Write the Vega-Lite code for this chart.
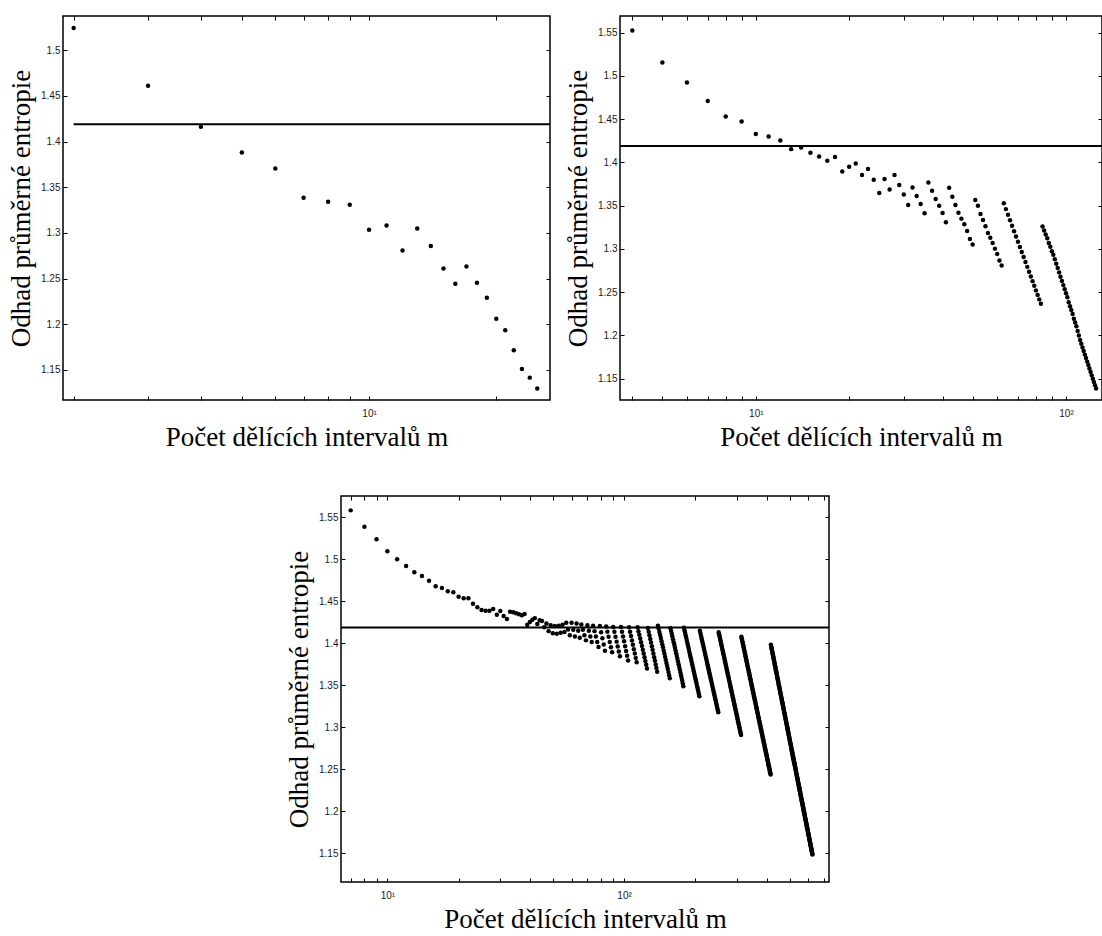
{
  "$schema": "https://vega.github.io/schema/vega-lite/v6.json",
  "background": "white",
  "padding": {"left": 6, "top": 14, "right": 0, "bottom": 0},
  "config": {
    "view": {"stroke": "black", "strokeWidth": 1.5},
    "axis": {
      "domain": false, "grid": false, "tickColor": "black", "tickWidth": 1, "tickSize": -4,
      "labelFont": "Liberation Sans", "labelFontSize": 10, "labelColor": "#1a1a1a",
      "labelOverlap": false, "labelFlush": false,
      "titleFont": "Liberation Serif", "titleFontSize": 27, "titleFontWeight": "normal", "titleColor": "black"
    }
  },
  "datasets": {
    "n50": [
      {"m":2,"H":1.5244},{"m":3,"H":1.461},{"m":4,"H":1.4161},{"m":5,"H":1.388},{"m":6,"H":1.3705},{"m":7,"H":1.3384},{"m":8,"H":1.334},{"m":9,"H":1.3308},{"m":10,"H":1.3034},{"m":11,"H":1.3082},{"m":12,"H":1.2808},{"m":13,"H":1.3049},{"m":14,"H":1.2856},{"m":15,"H":1.2611},{"m":16,"H":1.2443},{"m":17,"H":1.2633},{"m":18,"H":1.2454},{"m":19,"H":1.229},{"m":20,"H":1.206},{"m":21,"H":1.1933},{"m":22,"H":1.1714},{"m":23,"H":1.151},{"m":24,"H":1.1415},{"m":25,"H":1.1295}
    ],
    "n250": [
      {"m":4,"H":1.5525},{"m":5,"H":1.5155},{"m":6,"H":1.4924},{"m":7,"H":1.4712},{"m":8,"H":1.4532},{"m":9,"H":1.4474},{"m":10,"H":1.4328},{"m":11,"H":1.4301},{"m":12,"H":1.4254},{"m":13,"H":1.4154},{"m":14,"H":1.4174},{"m":15,"H":1.4112},{"m":16,"H":1.407},{"m":17,"H":1.402},{"m":18,"H":1.4062},{"m":19,"H":1.3896},{"m":20,"H":1.395},{"m":21,"H":1.3989},{"m":22,"H":1.3855},{"m":23,"H":1.3924},{"m":24,"H":1.38},{"m":25,"H":1.3647},{"m":26,"H":1.3808},{"m":27,"H":1.3688},{"m":28,"H":1.3855},{"m":29,"H":1.3739},{"m":30,"H":1.363},{"m":31,"H":1.3508},{"m":32,"H":1.3711},{"m":33,"H":1.3612},{"m":34,"H":1.352},{"m":35,"H":1.3411},{"m":36,"H":1.3769},{"m":37,"H":1.3673},{"m":38,"H":1.3577},{"m":39,"H":1.35},{"m":40,"H":1.3416},{"m":41,"H":1.3307},{"m":42,"H":1.3708},{"m":43,"H":1.3604},{"m":44,"H":1.3508},{"m":45,"H":1.3419},{"m":46,"H":1.335},{"m":47,"H":1.3284},{"m":48,"H":1.3208},{"m":49,"H":1.3115},{"m":50,"H":1.305},
      {"m":51,"H":1.3566},{"m":52,"H":1.35},{"m":53,"H":1.3404},{"m":54,"H":1.3335},{"m":55,"H":1.3261},{"m":56,"H":1.3185},{"m":57,"H":1.313},{"m":58,"H":1.3069},{"m":59,"H":1.3003},{"m":60,"H":1.2942},{"m":61,"H":1.2865},{"m":62,"H":1.2807},
      {"m":63,"H":1.3527},{"m":64,"H":1.346},{"m":65,"H":1.3395},{"m":66,"H":1.3331},{"m":67,"H":1.3267},{"m":68,"H":1.3205},{"m":69,"H":1.3144},{"m":70,"H":1.3083},{"m":71,"H":1.3023},{"m":72,"H":1.2964},{"m":73,"H":1.2906},{"m":74,"H":1.2849},{"m":75,"H":1.2792},{"m":76,"H":1.2736},{"m":77,"H":1.2681},{"m":78,"H":1.2627},{"m":79,"H":1.2573},{"m":80,"H":1.252},{"m":81,"H":1.2468},{"m":82,"H":1.2416},{"m":83,"H":1.2365},
      {"m":84,"H":1.3258},{"m":85,"H":1.3212},{"m":86,"H":1.3167},{"m":87,"H":1.3123},{"m":88,"H":1.3069},{"m":89,"H":1.3026},{"m":90,"H":1.2973},{"m":91,"H":1.2931},{"m":92,"H":1.2879},{"m":93,"H":1.2828},{"m":94,"H":1.2778},{"m":95,"H":1.2728},{"m":96,"H":1.2679},{"m":97,"H":1.263},{"m":98,"H":1.2581},{"m":99,"H":1.2534},{"m":100,"H":1.2486},{"m":101,"H":1.244},{"m":102,"H":1.2383},{"m":103,"H":1.2337},{"m":104,"H":1.2292},{"m":105,"H":1.2246},{"m":106,"H":1.2192},{"m":107,"H":1.2148},{"m":108,"H":1.2104},{"m":109,"H":1.205},{"m":110,"H":1.1997},{"m":111,"H":1.1945},{"m":112,"H":1.1902},{"m":113,"H":1.186},{"m":114,"H":1.1819},{"m":115,"H":1.1777},{"m":116,"H":1.1737},{"m":117,"H":1.1696},{"m":118,"H":1.1656},{"m":119,"H":1.1616},{"m":120,"H":1.1577},{"m":121,"H":1.1537},{"m":122,"H":1.1499},{"m":123,"H":1.146},{"m":124,"H":1.1422},{"m":125,"H":1.1384}
    ],
    "n1250": [
      {"m":7,"H":1.5583},{"m":8,"H":1.5388},{"m":9,"H":1.5238},{"m":10,"H":1.5095},{"m":11,"H":1.5},{"m":12,"H":1.492},{"m":13,"H":1.4845},{"m":14,"H":1.4801},{"m":15,"H":1.4745},{"m":16,"H":1.4679},{"m":17,"H":1.4658},{"m":18,"H":1.4619},{"m":19,"H":1.4607},{"m":20,"H":1.4555},{"m":21,"H":1.4536},{"m":22,"H":1.4536},{"m":23,"H":1.4471},{"m":24,"H":1.4429},{"m":25,"H":1.4396},{"m":26,"H":1.4388},{"m":27,"H":1.4388},{"m":28,"H":1.4408},{"m":29,"H":1.434},{"m":30,"H":1.4385},{"m":31,"H":1.4325},{"m":32,"H":1.4289},{"m":33,"H":1.4376},{"m":34,"H":1.4369},{"m":35,"H":1.4358},{"m":36,"H":1.4345},{"m":37,"H":1.4335},{"m":38,"H":1.4349},{"m":39,"H":1.4222},
      {"m":40,"H":1.4255},{"m":41,"H":1.428},{"m":42,"H":1.43},{"m":43,"H":1.423},{"m":44,"H":1.4275},{"m":45,"H":1.4265},{"m":46,"H":1.419},{"m":47,"H":1.4235},{"m":48,"H":1.4145},{"m":49,"H":1.4215},{"m":50,"H":1.412},{"m":51,"H":1.4205},{"m":52,"H":1.4115},{"m":53,"H":1.421},{"m":54,"H":1.4125},{"m":55,"H":1.422},{"m":56,"H":1.4135},{"m":57,"H":1.4245},{"m":58,"H":1.4165},{"m":59,"H":1.4095},{"m":60,"H":1.4245},{"m":61,"H":1.416},{"m":62,"H":1.408},{"m":63,"H":1.4235},{"m":64,"H":1.415},{"m":65,"H":1.4065},{"m":66,"H":1.4225},{"m":67,"H":1.416},{"m":68,"H":1.4095},{"m":69,"H":1.4035},{"m":70,"H":1.4215},{"m":71,"H":1.415},{"m":72,"H":1.408},{"m":73,"H":1.4015},{"m":74,"H":1.421},{"m":75,"H":1.4145},{"m":76,"H":1.408},{"m":77,"H":1.4015},{"m":78,"H":1.3955},{"m":79,"H":1.4205},{"m":80,"H":1.4132},{"m":81,"H":1.4059},{"m":82,"H":1.3985},{"m":83,"H":1.3912},{"m":84,"H":1.42},{"m":85,"H":1.4139},{"m":86,"H":1.4077},{"m":87,"H":1.4016},{"m":88,"H":1.3954},{"m":89,"H":1.3893},{"m":90,"H":1.4195},{"m":91,"H":1.4137},{"m":92,"H":1.4078},{"m":93,"H":1.402},{"m":94,"H":1.3962},{"m":95,"H":1.3903},{"m":96,"H":1.3845},{"m":97,"H":1.4195},{"m":98,"H":1.4138},{"m":99,"H":1.4081},{"m":100,"H":1.4024},{"m":101,"H":1.3966},{"m":102,"H":1.3909},{"m":103,"H":1.3852},{"m":104,"H":1.3795},{"m":105,"H":1.419},{"m":106,"H":1.4138},{"m":107,"H":1.4086},{"m":108,"H":1.4034},{"m":109,"H":1.3982},{"m":110,"H":1.393},{"m":111,"H":1.3878},{"m":112,"H":1.3826},{"m":113,"H":1.3774},
      {"m":114,"H":1.419},{"m":115,"H":1.4145},{"m":116,"H":1.4101},{"m":117,"H":1.4056},{"m":118,"H":1.4012},{"m":119,"H":1.3967},{"m":120,"H":1.3923},{"m":121,"H":1.3878},{"m":122,"H":1.3834},{"m":123,"H":1.3789},{"m":124,"H":1.3745},{"m":125,"H":1.37},
      {"m":126,"H":1.4182},{"m":127,"H":1.4139},{"m":128,"H":1.4095},{"m":129,"H":1.4052},{"m":130,"H":1.4009},{"m":131,"H":1.3965},{"m":132,"H":1.3922},{"m":133,"H":1.3879},{"m":134,"H":1.3835},{"m":135,"H":1.3792},{"m":136,"H":1.3749},{"m":137,"H":1.3705},{"m":138,"H":1.3662},
      {"m":139,"H":1.421},{"m":140,"H":1.4173},{"m":141,"H":1.4136},{"m":142,"H":1.4099},{"m":143,"H":1.4062},{"m":144,"H":1.4026},{"m":145,"H":1.3989},{"m":146,"H":1.3952},{"m":147,"H":1.3915},{"m":148,"H":1.3878},{"m":149,"H":1.3841},{"m":150,"H":1.3804},{"m":151,"H":1.3767},{"m":152,"H":1.373},{"m":153,"H":1.3694},{"m":154,"H":1.3657},{"m":155,"H":1.362},{"m":156,"H":1.3583},
      {"m":157,"H":1.4179},{"m":158,"H":1.4146},{"m":159,"H":1.4113},{"m":160,"H":1.408},{"m":161,"H":1.4047},{"m":162,"H":1.4014},{"m":163,"H":1.3982},{"m":164,"H":1.3949},{"m":165,"H":1.3916},{"m":166,"H":1.3883},{"m":167,"H":1.385},{"m":168,"H":1.3817},{"m":169,"H":1.3784},{"m":170,"H":1.3751},{"m":171,"H":1.3718},{"m":172,"H":1.3685},{"m":173,"H":1.3653},{"m":174,"H":1.362},{"m":175,"H":1.3587},{"m":176,"H":1.3554},{"m":177,"H":1.3521},{"m":178,"H":1.3488},
      {"m":179,"H":1.4186},{"m":180,"H":1.4156},{"m":181,"H":1.4127},{"m":182,"H":1.4097},{"m":183,"H":1.4068},{"m":184,"H":1.4038},{"m":185,"H":1.4008},{"m":186,"H":1.3979},{"m":187,"H":1.3949},{"m":188,"H":1.392},{"m":189,"H":1.389},{"m":190,"H":1.3862},{"m":191,"H":1.3834},{"m":192,"H":1.3806},{"m":193,"H":1.3778},{"m":194,"H":1.375},{"m":195,"H":1.3722},{"m":196,"H":1.3694},{"m":197,"H":1.3666},{"m":198,"H":1.3638},{"m":199,"H":1.361},{"m":200,"H":1.3583},{"m":201,"H":1.3557},{"m":202,"H":1.353},{"m":203,"H":1.3503},{"m":204,"H":1.3477},{"m":205,"H":1.345},{"m":206,"H":1.3423},{"m":207,"H":1.3397},{"m":208,"H":1.337},
      {"m":209,"H":1.415},{"m":210,"H":1.4125},{"m":211,"H":1.4099},{"m":212,"H":1.4074},{"m":213,"H":1.4049},{"m":214,"H":1.4023},{"m":215,"H":1.3998},{"m":216,"H":1.3973},{"m":217,"H":1.3947},{"m":218,"H":1.3922},{"m":219,"H":1.3897},{"m":220,"H":1.3873},{"m":221,"H":1.3849},{"m":222,"H":1.3824},{"m":223,"H":1.38},{"m":224,"H":1.3776},{"m":225,"H":1.3752},{"m":226,"H":1.3728},{"m":227,"H":1.3703},{"m":228,"H":1.3679},{"m":229,"H":1.3655},{"m":230,"H":1.3632},{"m":231,"H":1.3609},{"m":232,"H":1.3585},{"m":233,"H":1.3562},{"m":234,"H":1.3539},{"m":235,"H":1.3516},{"m":236,"H":1.3493},{"m":237,"H":1.3469},{"m":238,"H":1.3446},{"m":239,"H":1.3423},{"m":240,"H":1.3401},{"m":241,"H":1.3379},{"m":242,"H":1.3356},{"m":243,"H":1.3334},{"m":244,"H":1.3312},{"m":245,"H":1.329},{"m":246,"H":1.3268},{"m":247,"H":1.3245},{"m":248,"H":1.3223},{"m":249,"H":1.3201},{"m":250,"H":1.3179},
      {"m":251,"H":1.4131},{"m":252,"H":1.4109},{"m":253,"H":1.4087},{"m":254,"H":1.4065},{"m":255,"H":1.4043},{"m":256,"H":1.4021},{"m":257,"H":1.3999},{"m":258,"H":1.3977},{"m":259,"H":1.3955},{"m":260,"H":1.3933},{"m":261,"H":1.3911},{"m":262,"H":1.389},{"m":263,"H":1.3869},{"m":264,"H":1.3848},{"m":265,"H":1.3827},{"m":266,"H":1.3806},{"m":267,"H":1.3785},{"m":268,"H":1.3764},{"m":269,"H":1.3742},{"m":270,"H":1.3721},{"m":271,"H":1.37},{"m":272,"H":1.368},{"m":273,"H":1.3659},{"m":274,"H":1.3639},{"m":275,"H":1.3619},{"m":276,"H":1.3598},{"m":277,"H":1.3578},{"m":278,"H":1.3558},{"m":279,"H":1.3538},{"m":280,"H":1.3517},{"m":281,"H":1.3497},{"m":282,"H":1.3477},{"m":283,"H":1.3458},{"m":284,"H":1.3438},{"m":285,"H":1.3418},{"m":286,"H":1.3399},{"m":287,"H":1.3379},{"m":288,"H":1.3359},{"m":289,"H":1.3339},{"m":290,"H":1.332},{"m":291,"H":1.33},{"m":292,"H":1.3281},{"m":293,"H":1.3262},{"m":294,"H":1.3243},{"m":295,"H":1.3224},{"m":296,"H":1.3205},{"m":297,"H":1.3186},{"m":298,"H":1.3167},{"m":299,"H":1.3148},{"m":300,"H":1.3129},{"m":301,"H":1.311},{"m":302,"H":1.3092},{"m":303,"H":1.3073},{"m":304,"H":1.3055},{"m":305,"H":1.3037},{"m":306,"H":1.3018},{"m":307,"H":1.3},{"m":308,"H":1.2982},{"m":309,"H":1.2963},{"m":310,"H":1.2945},{"m":311,"H":1.2926},{"m":312,"H":1.2908},
      {"m":313,"H":1.4079},{"m":314,"H":1.4061},{"m":315,"H":1.4043},{"m":316,"H":1.4025},{"m":317,"H":1.4007},{"m":318,"H":1.3989},{"m":319,"H":1.397},{"m":320,"H":1.3952},{"m":321,"H":1.3934},{"m":322,"H":1.3916},{"m":323,"H":1.3898},{"m":324,"H":1.388},{"m":325,"H":1.3863},{"m":326,"H":1.3845},{"m":327,"H":1.3827},{"m":328,"H":1.381},{"m":329,"H":1.3792},{"m":330,"H":1.3775},{"m":331,"H":1.3757},{"m":332,"H":1.374},{"m":333,"H":1.3722},{"m":334,"H":1.3705},{"m":335,"H":1.3688},{"m":336,"H":1.3671},{"m":337,"H":1.3654},{"m":338,"H":1.3637},{"m":339,"H":1.362},{"m":340,"H":1.3602},{"m":341,"H":1.3585},{"m":342,"H":1.3568},{"m":343,"H":1.3551},{"m":344,"H":1.3534},{"m":345,"H":1.3518},{"m":346,"H":1.3501},{"m":347,"H":1.3485},{"m":348,"H":1.3468},{"m":349,"H":1.3451},{"m":350,"H":1.3435},{"m":351,"H":1.3418},{"m":352,"H":1.3402},{"m":353,"H":1.3385},{"m":354,"H":1.3369},{"m":355,"H":1.3353},{"m":356,"H":1.3337},{"m":357,"H":1.3321},{"m":358,"H":1.3305},{"m":359,"H":1.3288},{"m":360,"H":1.3272},{"m":361,"H":1.3256},{"m":362,"H":1.324},{"m":363,"H":1.3224},{"m":364,"H":1.3208},{"m":365,"H":1.3193},{"m":366,"H":1.3177},{"m":367,"H":1.3161},{"m":368,"H":1.3146},{"m":369,"H":1.313},{"m":370,"H":1.3114},{"m":371,"H":1.3099},{"m":372,"H":1.3083},{"m":373,"H":1.3067},{"m":374,"H":1.3052},{"m":375,"H":1.3036},{"m":376,"H":1.3021},{"m":377,"H":1.3006},{"m":378,"H":1.299},{"m":379,"H":1.2975},{"m":380,"H":1.296},{"m":381,"H":1.2945},{"m":382,"H":1.2929},{"m":383,"H":1.2914},{"m":384,"H":1.2899},{"m":385,"H":1.2884},{"m":386,"H":1.2869},{"m":387,"H":1.2854},{"m":388,"H":1.284},{"m":389,"H":1.2825},{"m":390,"H":1.281},{"m":391,"H":1.2795},{"m":392,"H":1.278},{"m":393,"H":1.2765},{"m":394,"H":1.2751},{"m":395,"H":1.2736},{"m":396,"H":1.2722},{"m":397,"H":1.2707},{"m":398,"H":1.2693},{"m":399,"H":1.2678},{"m":400,"H":1.2664},{"m":401,"H":1.2649},{"m":402,"H":1.2635},{"m":403,"H":1.262},{"m":404,"H":1.2606},{"m":405,"H":1.2592},{"m":406,"H":1.2578},{"m":407,"H":1.2564},{"m":408,"H":1.2549},{"m":409,"H":1.2535},{"m":410,"H":1.2521},{"m":411,"H":1.2507},{"m":412,"H":1.2493},{"m":413,"H":1.2479},{"m":414,"H":1.2465},{"m":415,"H":1.2451},{"m":416,"H":1.2437},
      {"m":417,"H":1.3983},{"m":418,"H":1.3969},{"m":419,"H":1.3954},{"m":420,"H":1.394},{"m":421,"H":1.3925},{"m":422,"H":1.3911},{"m":423,"H":1.3896},{"m":424,"H":1.3882},{"m":425,"H":1.3867},{"m":426,"H":1.3853},{"m":427,"H":1.3839},{"m":428,"H":1.3824},{"m":429,"H":1.381},{"m":430,"H":1.3795},{"m":431,"H":1.3781},{"m":432,"H":1.3766},{"m":433,"H":1.3752},{"m":434,"H":1.3737},{"m":435,"H":1.3723},{"m":436,"H":1.3708},{"m":437,"H":1.3694},{"m":438,"H":1.368},{"m":439,"H":1.3666},{"m":440,"H":1.3652},{"m":441,"H":1.3639},{"m":442,"H":1.3625},{"m":443,"H":1.3611},{"m":444,"H":1.3597},{"m":445,"H":1.3583},{"m":446,"H":1.3569},{"m":447,"H":1.3556},{"m":448,"H":1.3542},{"m":449,"H":1.3528},{"m":450,"H":1.3514},{"m":451,"H":1.35},{"m":452,"H":1.3486},{"m":453,"H":1.3472},{"m":454,"H":1.3459},{"m":455,"H":1.3445},{"m":456,"H":1.3431},{"m":457,"H":1.3417},{"m":458,"H":1.3404},{"m":459,"H":1.3391},{"m":460,"H":1.3377},{"m":461,"H":1.3364},{"m":462,"H":1.3351},{"m":463,"H":1.3338},{"m":464,"H":1.3325},{"m":465,"H":1.3311},{"m":466,"H":1.3298},{"m":467,"H":1.3285},{"m":468,"H":1.3272},{"m":469,"H":1.3259},{"m":470,"H":1.3245},{"m":471,"H":1.3232},{"m":472,"H":1.3219},{"m":473,"H":1.3206},{"m":474,"H":1.3193},{"m":475,"H":1.3179},{"m":476,"H":1.3166},{"m":477,"H":1.3153},{"m":478,"H":1.314},{"m":479,"H":1.3128},{"m":480,"H":1.3115},{"m":481,"H":1.3102},{"m":482,"H":1.309},{"m":483,"H":1.3077},{"m":484,"H":1.3064},{"m":485,"H":1.3051},{"m":486,"H":1.3039},{"m":487,"H":1.3026},{"m":488,"H":1.3013},{"m":489,"H":1.3001},{"m":490,"H":1.2988},{"m":491,"H":1.2975},{"m":492,"H":1.2963},{"m":493,"H":1.295},{"m":494,"H":1.2937},{"m":495,"H":1.2924},{"m":496,"H":1.2912},{"m":497,"H":1.2899},{"m":498,"H":1.2887},{"m":499,"H":1.2875},{"m":500,"H":1.2862},{"m":501,"H":1.285},{"m":502,"H":1.2838},{"m":503,"H":1.2826},{"m":504,"H":1.2814},{"m":505,"H":1.2801},{"m":506,"H":1.2789},{"m":507,"H":1.2777},{"m":508,"H":1.2765},{"m":509,"H":1.2753},{"m":510,"H":1.274},{"m":511,"H":1.2728},{"m":512,"H":1.2716},{"m":513,"H":1.2704},{"m":514,"H":1.2692},{"m":515,"H":1.2679},{"m":516,"H":1.2667},{"m":517,"H":1.2655},{"m":518,"H":1.2643},{"m":519,"H":1.2632},{"m":520,"H":1.262},{"m":521,"H":1.2608},{"m":522,"H":1.2597},{"m":523,"H":1.2585},{"m":524,"H":1.2573},{"m":525,"H":1.2561},{"m":526,"H":1.255},{"m":527,"H":1.2538},{"m":528,"H":1.2526},{"m":529,"H":1.2515},{"m":530,"H":1.2503},{"m":531,"H":1.2491},{"m":532,"H":1.248},{"m":533,"H":1.2468},{"m":534,"H":1.2456},{"m":535,"H":1.2444},{"m":536,"H":1.2433},{"m":537,"H":1.2421},{"m":538,"H":1.241},{"m":539,"H":1.2398},{"m":540,"H":1.2387},{"m":541,"H":1.2376},{"m":542,"H":1.2365},{"m":543,"H":1.2353},{"m":544,"H":1.2342},{"m":545,"H":1.2331},{"m":546,"H":1.2319},{"m":547,"H":1.2308},{"m":548,"H":1.2297},{"m":549,"H":1.2285},{"m":550,"H":1.2274},{"m":551,"H":1.2263},{"m":552,"H":1.2252},{"m":553,"H":1.224},{"m":554,"H":1.2229},{"m":555,"H":1.2218},{"m":556,"H":1.2206},{"m":557,"H":1.2195},{"m":558,"H":1.2184},{"m":559,"H":1.2173},{"m":560,"H":1.2162},{"m":561,"H":1.2151},{"m":562,"H":1.2141},{"m":563,"H":1.213},{"m":564,"H":1.2119},{"m":565,"H":1.2108},{"m":566,"H":1.2097},{"m":567,"H":1.2086},{"m":568,"H":1.2075},{"m":569,"H":1.2064},{"m":570,"H":1.2053},{"m":571,"H":1.2042},{"m":572,"H":1.2032},{"m":573,"H":1.2021},{"m":574,"H":1.201},{"m":575,"H":1.1999},{"m":576,"H":1.1988},{"m":577,"H":1.1977},{"m":578,"H":1.1967},{"m":579,"H":1.1956},{"m":580,"H":1.1946},{"m":581,"H":1.1935},{"m":582,"H":1.1925},{"m":583,"H":1.1914},{"m":584,"H":1.1904},{"m":585,"H":1.1893},{"m":586,"H":1.1883},{"m":587,"H":1.1872},{"m":588,"H":1.1862},{"m":589,"H":1.1851},{"m":590,"H":1.1841},{"m":591,"H":1.183},{"m":592,"H":1.182},{"m":593,"H":1.1809},{"m":594,"H":1.1799},{"m":595,"H":1.1788},{"m":596,"H":1.1778},{"m":597,"H":1.1767},{"m":598,"H":1.1757},{"m":599,"H":1.1747},{"m":600,"H":1.1737},{"m":601,"H":1.1726},{"m":602,"H":1.1716},{"m":603,"H":1.1706},{"m":604,"H":1.1696},{"m":605,"H":1.1686},{"m":606,"H":1.1676},{"m":607,"H":1.1666},{"m":608,"H":1.1655},{"m":609,"H":1.1645},{"m":610,"H":1.1635},{"m":611,"H":1.1625},{"m":612,"H":1.1615},{"m":613,"H":1.1605},{"m":614,"H":1.1595},{"m":615,"H":1.1584},{"m":616,"H":1.1574},{"m":617,"H":1.1564},{"m":618,"H":1.1554},{"m":619,"H":1.1544},{"m":620,"H":1.1534},{"m":621,"H":1.1524},{"m":622,"H":1.1514},{"m":623,"H":1.1504},{"m":624,"H":1.1494},{"m":625,"H":1.1484}
    ]
  },
  "spacing": 43,
  "vconcat": [
    {
      "spacing": 11,
      "hconcat": [
        {
          "width": 487, "height": 384,
          "layer": [
            {
              "data": {"name": "n50"},
              "mark": {"type": "circle", "size": 20, "color": "black", "opacity": 1},
              "encoding": {
                "x": {"field": "m", "type": "quantitative",
                  "scale": {"type": "log", "domain": [1.887, 26.8], "nice": false},
                  "axis": {"orient": "bottom", "values": [2,3,4,5,6,7,8,9,10,20],
                    "labelExpr": "datum.value == 10 ? '10¹' : datum.value == 100 ? '10²' : ''",
                    "labelPadding": 12, "minExtent": 16, "maxExtent": 16, "titlePadding": 8,
                    "title": "Počet dělících intervalů m"}},
                "y": {"field": "H", "type": "quantitative",
                  "scale": {"domain": [1.117, 1.5375], "nice": false, "zero": false},
                  "axis": {"orient": "left", "values": [1.15,1.2,1.25,1.3,1.35,1.4,1.45,1.5], "format": ".2~f",
                    "labelPadding": 7, "minExtent": 20, "maxExtent": 20, "titlePadding": 8,
                    "title": "Odhad průměrné entropie"}}
              }
            },
            {
              "data": {"values": [{"H": 1.4189, "m0": 2, "m1": 26.8}]},
              "mark": {"type": "rule", "color": "black", "strokeWidth": 2},
              "encoding": {
                "x": {"field": "m0", "type": "quantitative",
                  "axis": {"orient": "top", "values": [2,3,4,5,6,7,8,9,10,20], "labels": false, "title": null}},
                "x2": {"field": "m1"},
                "y": {"field": "H", "type": "quantitative",
                  "axis": {"orient": "right", "values": [1.15,1.2,1.25,1.3,1.35,1.4,1.45,1.5], "labels": false, "title": null}}
              }
            }
          ],
          "resolve": {"axis": {"x": "independent", "y": "independent"}}
        },
        {
          "width": 482, "height": 384,
          "layer": [
            {
              "data": {"name": "n250"},
              "mark": {"type": "circle", "size": 20, "color": "black", "opacity": 1},
              "encoding": {
                "x": {"field": "m", "type": "quantitative",
                  "scale": {"type": "log", "domain": [3.65, 130.6], "nice": false},
                  "axis": {"orient": "bottom", "values": [4,5,6,7,8,9,10,20,30,40,50,60,70,80,90,100],
                    "labelExpr": "datum.value == 10 ? '10¹' : datum.value == 100 ? '10²' : ''",
                    "labelPadding": 12, "minExtent": 16, "maxExtent": 16, "titlePadding": 8,
                    "title": "Počet dělících intervalů m"}},
                "y": {"field": "H", "type": "quantitative",
                  "scale": {"domain": [1.1252, 1.5694], "nice": false, "zero": false},
                  "axis": {"orient": "left", "values": [1.15,1.2,1.25,1.3,1.35,1.4,1.45,1.5,1.55], "format": ".2~f",
                    "labelPadding": 7, "minExtent": 20, "maxExtent": 20, "titlePadding": 8,
                    "title": "Odhad průměrné entropie"}}
              }
            },
            {
              "data": {"values": [{"H": 1.4189, "m0": 3.65, "m1": 130.6}]},
              "mark": {"type": "rule", "color": "black", "strokeWidth": 2},
              "encoding": {
                "x": {"field": "m0", "type": "quantitative",
                  "axis": {"orient": "top", "values": [4,5,6,7,8,9,10,20,30,40,50,60,70,80,90,100], "labels": false, "title": null}},
                "x2": {"field": "m1"},
                "y": {"field": "H", "type": "quantitative",
                  "axis": {"orient": "right", "values": [1.15,1.2,1.25,1.3,1.35,1.4,1.45,1.5,1.55], "labels": false, "title": null}}
              }
            }
          ],
          "resolve": {"axis": {"x": "independent", "y": "independent"}}
        }
      ]
    },
    {
      "spacing": 0,
      "hconcat": [
        {
          "width": 221, "height": 1,
          "view": {"stroke": null},
          "data": {"values": []},
          "mark": "point"
        },
        {
          "width": 488, "height": 386,
          "layer": [
            {
              "data": {"name": "n1250"},
              "mark": {"type": "circle", "size": 20, "color": "black", "opacity": 1},
              "encoding": {
                "x": {"field": "m", "type": "quantitative",
                  "scale": {"type": "log", "domain": [6.37, 734], "nice": false},
                  "axis": {"orient": "bottom", "values": [7,8,9,10,20,30,40,50,60,70,80,90,100,200,300,400,500,600,700],
                    "labelExpr": "datum.value == 10 ? '10¹' : datum.value == 100 ? '10²' : ''",
                    "labelPadding": 12, "minExtent": 16, "maxExtent": 16, "titlePadding": 8,
                    "title": "Počet dělících intervalů m"}},
                "y": {"field": "H", "type": "quantitative",
                  "scale": {"domain": [1.1158, 1.5754], "nice": false, "zero": false},
                  "axis": {"orient": "left", "values": [1.15,1.2,1.25,1.3,1.35,1.4,1.45,1.5,1.55], "format": ".2~f",
                    "labelPadding": 7, "minExtent": 20, "maxExtent": 20, "titlePadding": 8,
                    "title": "Odhad průměrné entropie"}}
              }
            },
            {
              "data": {"values": [{"H": 1.4189, "m0": 6.37, "m1": 734}]},
              "mark": {"type": "rule", "color": "black", "strokeWidth": 2},
              "encoding": {
                "x": {"field": "m0", "type": "quantitative",
                  "axis": {"orient": "top", "values": [7,8,9,10,20,30,40,50,60,70,80,90,100,200,300,400,500,600,700], "labels": false, "title": null}},
                "x2": {"field": "m1"},
                "y": {"field": "H", "type": "quantitative",
                  "axis": {"orient": "right", "values": [1.15,1.2,1.25,1.3,1.35,1.4,1.45,1.5,1.55], "labels": false, "title": null}}
              }
            }
          ],
          "resolve": {"axis": {"x": "independent", "y": "independent"}}
        }
      ]
    }
  ]
}
